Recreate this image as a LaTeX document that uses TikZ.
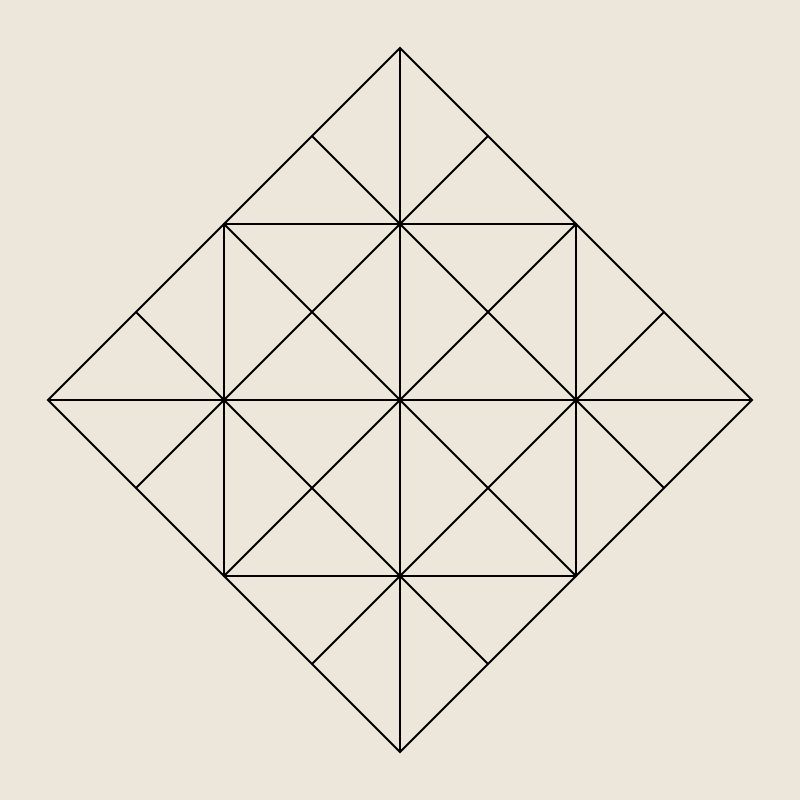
\documentclass[tikz,border=0pt]{standalone}
\usepackage{tikz}
\definecolor{paper}{HTML}{EDE7DB}
\begin{document}
\begin{tikzpicture}[line width=0.7pt]
    \fill[paper] (-5,-5) rectangle (5,5);
    \useasboundingbox (-5,-5) rectangle (5,5);
    % outer diamond and middle cross
    \draw (0,4.4) -- (4.4,0) -- (0,-4.4) -- (-4.4,0) -- cycle;
    \draw (0,4.4) -- (0,-4.4);
    \draw (-4.4,0) -- (4.4,0);
    % inner square with its diagonals
    \draw (-2.2,-2.2) rectangle (2.2,2.2);
    \draw (-2.2,2.2) -- (2.2,-2.2);
    \draw (2.2,2.2) -- (-2.2,-2.2);
    % lines through the quarter points
    \draw (-1.1,3.3) -- (3.3,-1.1);
    \draw (1.1,3.3) -- (-3.3,-1.1);
    \draw (-3.3,1.1) -- (1.1,-3.3);
    \draw (3.3,1.1) -- (-1.1,-3.3);
\end{tikzpicture}
\end{document}
